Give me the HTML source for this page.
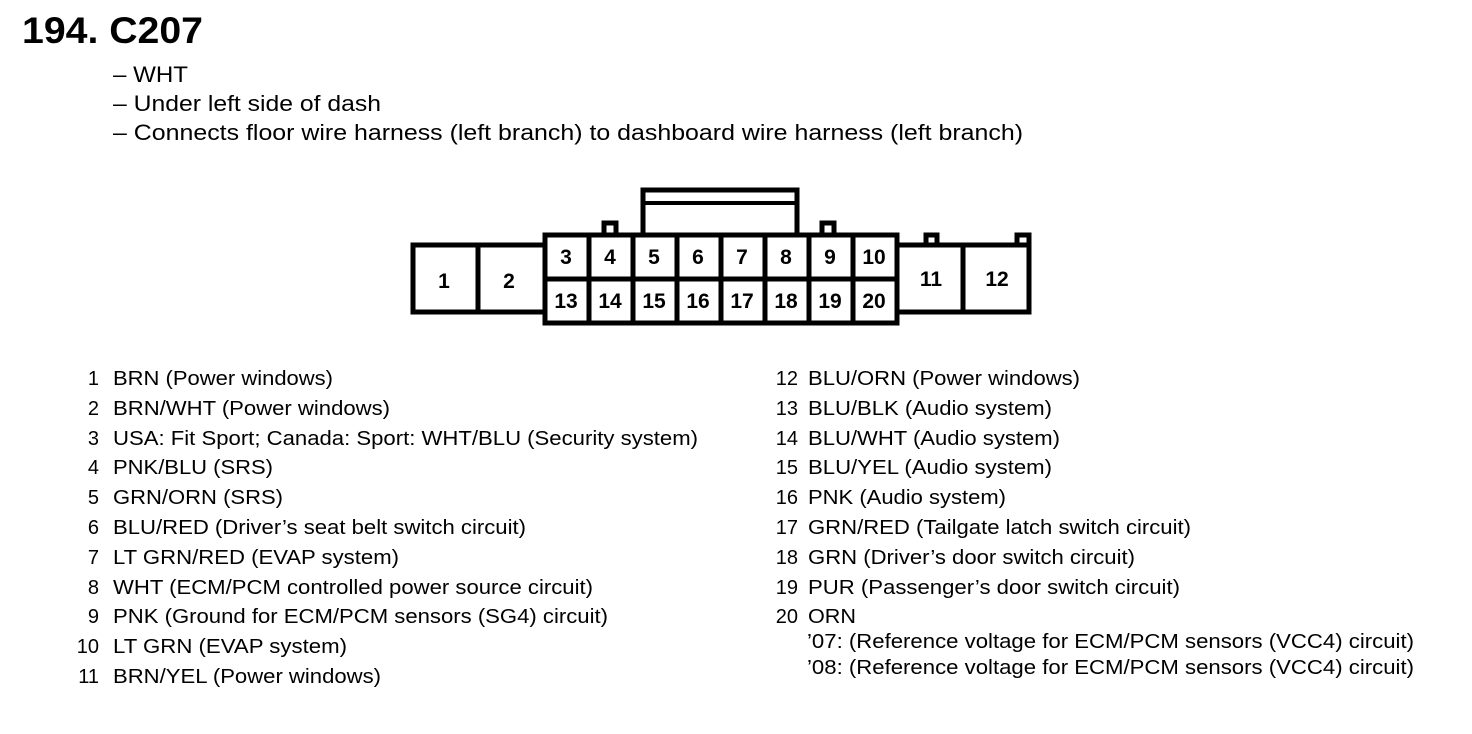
<!DOCTYPE html>
<html><head><meta charset="utf-8"><style>
html,body{margin:0;padding:0;background:#fff;}
svg{display:block;}
text{font-family:"Liberation Sans",Arial,sans-serif;fill:#000;}
.b{font-weight:bold;}
</style></head><body>
<svg width="1472" height="734" viewBox="0 0 1472 734" xmlns="http://www.w3.org/2000/svg">
<text x="22" y="43" class="b" font-size="37" textLength="181" lengthAdjust="spacingAndGlyphs">194. C207</text>
<g font-size="22">
<text x="113" y="82" textLength="75" lengthAdjust="spacingAndGlyphs">– WHT</text>
<text x="113" y="111" textLength="268" lengthAdjust="spacingAndGlyphs">– Under left side of dash</text>
<text x="113" y="140" textLength="910" lengthAdjust="spacingAndGlyphs">– Connects floor wire harness (left branch) to dashboard wire harness (left branch)</text>
</g>
<g fill="none" stroke="#000" stroke-width="5">
<rect x="413" y="245" width="132" height="67" fill="#fff"/>
<line x1="478" y1="245" x2="478" y2="312"/>
<path d="M643 235 V190 H797 V235" />
<line x1="643" y1="203" x2="797" y2="203" stroke-width="4"/>
<path d="M604 235 V223 H616 V235"/>
<path d="M822 235 V223 H834 V235"/>
<path d="M926 245 V235 H937 V245"/>
<path d="M1017 245 V235 H1029 V245"/>
<rect x="545" y="235" width="352" height="88" fill="#fff"/>
<line x1="545" y1="279" x2="897" y2="279"/>
<line x1="589" y1="235" x2="589" y2="323"/>
<line x1="633" y1="235" x2="633" y2="323"/>
<line x1="677" y1="235" x2="677" y2="323"/>
<line x1="721" y1="235" x2="721" y2="323"/>
<line x1="765" y1="235" x2="765" y2="323"/>
<line x1="809" y1="235" x2="809" y2="323"/>
<line x1="853" y1="235" x2="853" y2="323"/>
<rect x="897" y="245" width="132" height="67" fill="#fff"/>
<line x1="963" y1="245" x2="963" y2="312"/>
</g>
<g font-size="21" class="b" text-anchor="middle">
<text x="444" y="288">1</text><text x="509" y="288">2</text>
<text x="566" y="264">3</text><text x="610" y="264">4</text><text x="654" y="264">5</text><text x="698" y="264">6</text><text x="742" y="264">7</text><text x="786" y="264">8</text><text x="830" y="264">9</text><text x="874" y="264">10</text>
<text x="566" y="308">13</text><text x="610" y="308">14</text><text x="654" y="308">15</text><text x="698" y="308">16</text><text x="742" y="308">17</text><text x="786" y="308">18</text><text x="830" y="308">19</text><text x="874" y="308">20</text>
<text x="931" y="286">11</text><text x="997" y="286">12</text>
</g>
<g font-size="20">
<g text-anchor="end">
<text x="99" y="385">1</text><text x="99" y="415">2</text><text x="99" y="445">3</text><text x="99" y="474">4</text><text x="99" y="504">5</text><text x="99" y="534">6</text><text x="99" y="564">7</text><text x="99" y="594">8</text><text x="99" y="623">9</text><text x="99" y="653">10</text><text x="99" y="683">11</text>
<text x="798" y="385">12</text><text x="798" y="415">13</text><text x="798" y="445">14</text><text x="798" y="474">15</text><text x="798" y="504">16</text><text x="798" y="534">17</text><text x="798" y="564">18</text><text x="798" y="594">19</text><text x="798" y="623">20</text>
</g>
<g>
<text x="113" y="385" textLength="220" lengthAdjust="spacingAndGlyphs">BRN (Power windows)</text>
<text x="113" y="415" textLength="277" lengthAdjust="spacingAndGlyphs">BRN/WHT (Power windows)</text>
<text x="113" y="445" textLength="585" lengthAdjust="spacingAndGlyphs">USA: Fit Sport; Canada: Sport: WHT/BLU (Security system)</text>
<text x="113" y="474" textLength="160" lengthAdjust="spacingAndGlyphs">PNK/BLU (SRS)</text>
<text x="113" y="504" textLength="170" lengthAdjust="spacingAndGlyphs">GRN/ORN (SRS)</text>
<text x="113" y="534" textLength="413" lengthAdjust="spacingAndGlyphs">BLU/RED (Driver’s seat belt switch circuit)</text>
<text x="113" y="564" textLength="286" lengthAdjust="spacingAndGlyphs">LT GRN/RED (EVAP system)</text>
<text x="113" y="594" textLength="480" lengthAdjust="spacingAndGlyphs">WHT (ECM/PCM controlled power source circuit)</text>
<text x="113" y="623" textLength="495" lengthAdjust="spacingAndGlyphs">PNK (Ground for ECM/PCM sensors (SG4) circuit)</text>
<text x="113" y="653" textLength="234" lengthAdjust="spacingAndGlyphs">LT GRN (EVAP system)</text>
<text x="113" y="683" textLength="268" lengthAdjust="spacingAndGlyphs">BRN/YEL (Power windows)</text>
<text x="808" y="385" textLength="272" lengthAdjust="spacingAndGlyphs">BLU/ORN (Power windows)</text>
<text x="808" y="415" textLength="244" lengthAdjust="spacingAndGlyphs">BLU/BLK (Audio system)</text>
<text x="808" y="445" textLength="252" lengthAdjust="spacingAndGlyphs">BLU/WHT (Audio system)</text>
<text x="808" y="474" textLength="244" lengthAdjust="spacingAndGlyphs">BLU/YEL (Audio system)</text>
<text x="808" y="504" textLength="198" lengthAdjust="spacingAndGlyphs">PNK (Audio system)</text>
<text x="808" y="534" textLength="383" lengthAdjust="spacingAndGlyphs">GRN/RED (Tailgate latch switch circuit)</text>
<text x="808" y="564" textLength="327" lengthAdjust="spacingAndGlyphs">GRN (Driver’s door switch circuit)</text>
<text x="808" y="594" textLength="372" lengthAdjust="spacingAndGlyphs">PUR (Passenger’s door switch circuit)</text>
<text x="808" y="623" textLength="48" lengthAdjust="spacingAndGlyphs">ORN</text>
<text x="807" y="648" textLength="607" lengthAdjust="spacingAndGlyphs">’07: (Reference voltage for ECM/PCM sensors (VCC4) circuit)</text>
<text x="807" y="674" textLength="607" lengthAdjust="spacingAndGlyphs">’08: (Reference voltage for ECM/PCM sensors (VCC4) circuit)</text>
</g>
</g>
</svg>
</body></html>
